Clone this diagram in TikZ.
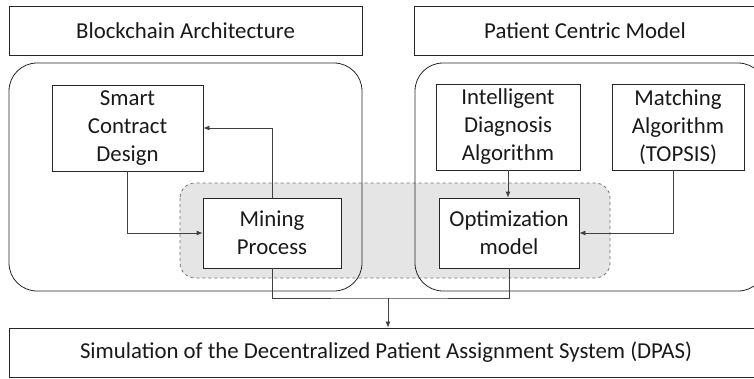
\documentclass[tikz,border=0pt]{standalone}
\usepackage{fontspec}
\setmainfont{Carlito}
\usetikzlibrary{arrows.meta}
\begin{document}
\begin{tikzpicture}[x=1pt,y=-1pt,
  every node/.style={font=\fontsize{22.8}{28}\selectfont, text=black!90},
  box/.style={draw=black!85, line width=0.8pt, fill=white, align=center, inner sep=0pt},
  cont/.style={draw=black!85, line width=0.8pt, rounded corners=28pt},
  conn/.style={draw=black!75, line width=0.8pt},
  arr/.style={conn, -{Latex[length=6pt,width=5pt]}}]
\useasboundingbox (0,0) rectangle (754,378);
\clip (0,0) rectangle (754,378);
% grey dashed zone
\draw[draw=black!55, dashed, line width=0.8pt, fill=black!10, rounded corners=15pt] (180,183) rectangle (610,278);
% containers
\draw[cont] (9,63) rectangle (362,291);
\draw[cont] (415,63) rectangle (766,291);
% header boxes
\node[box, minimum width=353pt, minimum height=49pt] (bc) at (185.5,30.5) {Blockchain Architecture};
\node[box, minimum width=342pt, minimum height=49pt] (pc) at (585,30.5) {Patient Centric Model};
% inner boxes
\node[box, minimum width=151pt, minimum height=86pt] (sc) at (127.5,128) {Smart\\Contract\\Design};
\node[box, minimum width=138pt, minimum height=70pt] (mp) at (272,233) {Mining\\Process};
\node[box, minimum width=144pt, minimum height=86pt] (id) at (508,127) {Intelligent\\Diagnosis\\Algorithm};
\node[box, minimum width=132pt, minimum height=86pt] (ma) at (678,127) {Matching\\Algorithm\\(TOPSIS)};
\node[box, minimum width=140pt, minimum height=70pt] (om) at (509,233) {Optimization\\model};
% bottom box
\node[box, minimum width=754pt, minimum height=49pt] (sim) at (386,352.5) {Simulation of the Decentralized Patient Assignment System (DPAS)};
% connectors
\coordinate (j) at (388,298);
\draw[arr] (mp.north) |- (sc.east);
\draw[arr] (sc.south) |- (mp.west);
\draw[arr] (id.south) -- (id.south |- om.north);
\draw[arr] ([xshift=-5pt]ma.south) |- (om.east);
\draw[conn] (mp.south) |- (j) -| (om.south);
\draw[arr] (j) -- (j |- sim.north);
\end{tikzpicture}
\end{document}
